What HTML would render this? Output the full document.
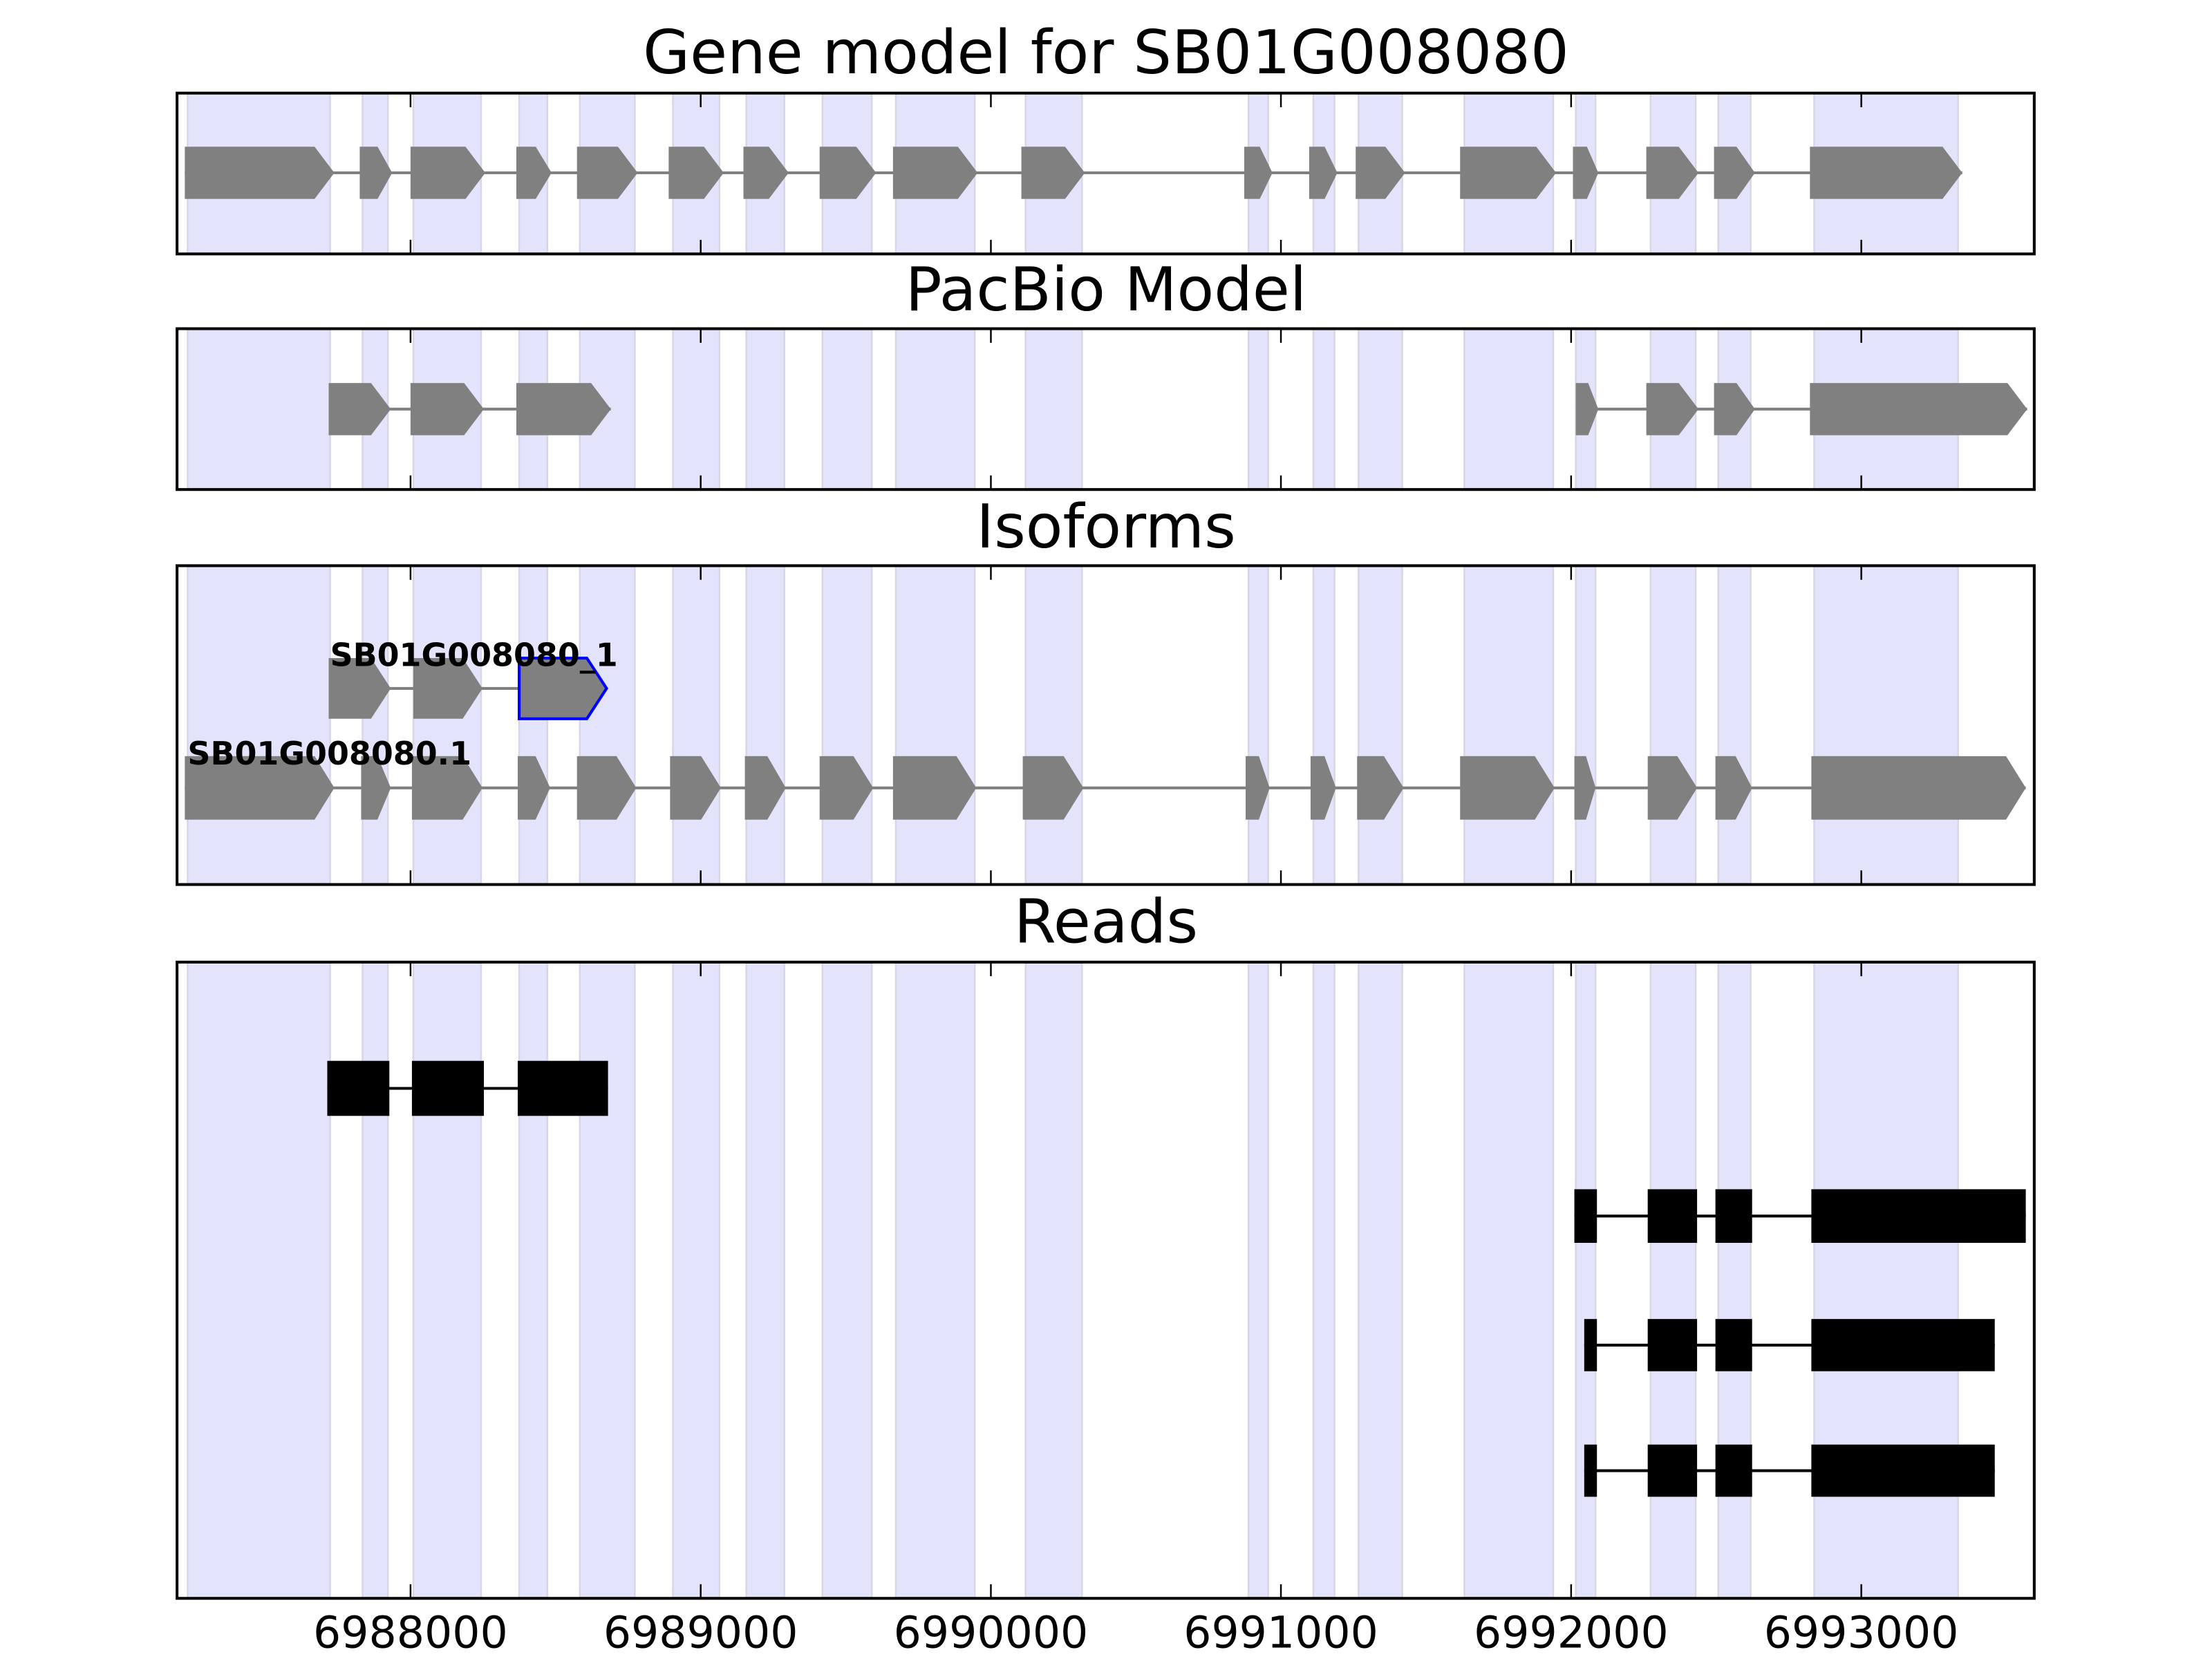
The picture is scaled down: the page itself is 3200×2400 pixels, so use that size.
<!DOCTYPE html>
<html><head><meta charset="utf-8"><style>html,body{margin:0;padding:0;background:#fff}svg{display:block}</style></head>
<body>
<svg id="s" xmlns="http://www.w3.org/2000/svg" width="3200" height="2400" viewBox="0 0 1568 1176" font-family="DejaVu Sans, Liberation Sans, sans-serif">
<rect width="1568" height="1176" fill="#fff"/>
<g id="bands"></g>
<g id="shapes"></g>
<g id="frames"></g>
<g font-size="43" text-anchor="middle" fill="#000">
<text x="784" y="52">Gene model for SB01G008080</text>
<text x="784" y="220">PacBio Model</text>
<text x="784" y="388">Isoforms</text>
<text x="784" y="668">Reads</text>
</g>
<g font-size="31" text-anchor="middle" fill="#000">
<text x="291" y="1168">6988000</text>
<text x="496.7" y="1168">6989000</text>
<text x="702.4" y="1168">6990000</text>
<text x="908" y="1168">6991000</text>
<text x="1113.7" y="1168">6992000</text>
<text x="1319.4" y="1168">6993000</text>
</g>
<g font-size="22.5" font-weight="bold" fill="#000">
<text x="234" y="472">SB01G008080_1</text>
<text x="133" y="542">SB01G008080.1</text>
</g>
</svg>
<script>
var NS="http://www.w3.org/2000/svg";
function el(p,t,a){var e=document.createElementNS(NS,t);for(var k in a)e.setAttribute(k,a[k]);document.getElementById(p).appendChild(e);return e;}
var panels=[[66,180],[233,347],[401,627],[682,1133]];
var L=125.5,R=1442;
var bands=[[133,234],[257,275],[293,341],[368,388],[411,450],[477,510],[529,556],[583,618],[635,691],[727,767],[885,899],[931,946],[963,994],[1038,1101],[1117,1131],[1170,1202],[1218,1241],[1286,1388]];
panels.forEach(function(p){
  bands.forEach(function(b){
    el("bands","rect",{x:b[0],y:p[0],width:b[1]-b[0],height:p[1]-p[0],fill:"#e3e3fb",stroke:"#d6d6e6","stroke-width":1.2});
  });
});
function gene(ex,yc,h,col,stroke){
  el("shapes","line",{x1:ex[0][0],x2:ex[ex.length-1][1],y1:yc,y2:yc,stroke:"#808080","stroke-width":2});
  ex.forEach(function(e,i){
    var w=e[1]-e[0],a=Math.min(14,w*0.45),x0=e[0],x1=e[1];
    var pts=[[x0,yc-h/2],[x1-a,yc-h/2],[x1,yc],[x1-a,yc+h/2],[x0,yc+h/2]].map(function(q){return q.join(",")}).join(" ");
    var s=(stroke&&i==ex.length-1)?{stroke:"#0000ff","stroke-width":2}:{};
    s.points=pts;s.fill=col;
    el("shapes","polygon",s);
  });
}
function read(ex,yc,h){
  el("shapes","line",{x1:ex[0][0],x2:ex[ex.length-1][1],y1:yc,y2:yc,stroke:"#000","stroke-width":2});
  ex.forEach(function(e){el("shapes","rect",{x:e[0],y:yc-h/2,width:e[1]-e[0],height:h,fill:"#000"});});
}
gene([[131,237],[255,278],[291,344],[366,391],[409,452],[474,513],[527,559],[581,621],[633,693],[724,769],[882,902],[928,948],[961,996],[1035,1103],[1115,1133],[1167,1204],[1215,1244],[1283,1391]],122.5,37,"#808080");
gene([[233,277],[291,343],[366,433]],290,37,"#808080");
gene([[1117,1133],[1167,1204],[1215,1244],[1283,1437]],290,37,"#808080");
gene([[233,277],[293,342],[368,430]],488,43,"#808080",true);
gene([[131,237],[256,277],[292,342],[367,390],[409,451],[475,511],[528,557],[581,619],[633,692],[725,768],[883,900],[929,947],[962,995],[1035,1102],[1116,1131],[1168,1203],[1216,1242],[1284,1436]],558.5,45,"#808080");
read([[232,276],[292,343],[367,431]],771.5,39);
read([[1116,1132],[1168,1203],[1216,1242],[1284,1436]],862,38);
read([[1123,1132],[1168,1203],[1216,1242],[1284,1414]],953.5,37);
read([[1123,1132],[1168,1203],[1216,1242],[1284,1414]],1042.5,37);
var ticks=[291,496.7,702.4,908,1113.7,1319.4];
panels.forEach(function(p){
  ticks.forEach(function(t){
    el("frames","line",{x1:t,x2:t,y1:p[0],y2:p[0]+10,stroke:"#000","stroke-width":1.2});
    el("frames","line",{x1:t,x2:t,y1:p[1],y2:p[1]-10,stroke:"#000","stroke-width":1.2});
  });
  el("frames","rect",{x:L,y:p[0],width:R-L,height:p[1]-p[0],fill:"none",stroke:"#000","stroke-width":2});
});
</script>
</body></html>
